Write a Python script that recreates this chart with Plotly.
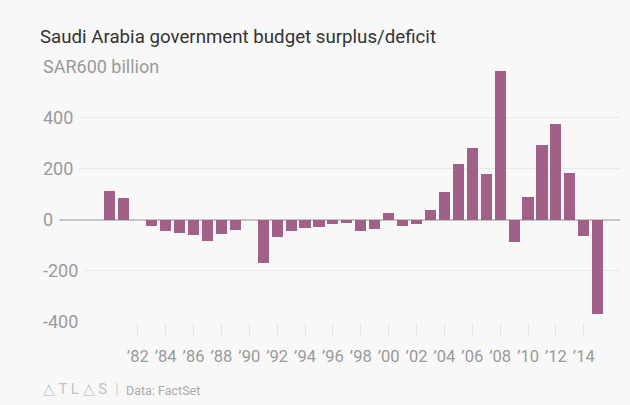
import plotly.graph_objects as go

years = list(range(1980, 2016))
surplus = [111, 84, None, -24, -45, -51, -62, -83, -56, -41,
           None, -172, -70, -46, -34, -28, -18, -14, -47, -37,
           24, -26, -18, 37, 109, 219, 282, 177, 582, -87,
           88, 292, 376, 181, -64, -369]

x_tick_years = list(range(1982, 2016, 2))
x_tick_text = ["\u2019" + str(y)[2:] for y in x_tick_years]
y_tick_vals = [600, 400, 200, 0, -200, -400]
y_tick_text = ["SAR600 billion", "400", "200", "0", "-200", "-400"]

BG = "#f8f8f8"
BAR = "#a06087"
FONT = "Roboto"

W, H = 630, 405
ML, MR, MT, MB = 43, 10, 66, 83
PW, PH = W - ML - MR, H - MT - MB


def px_x(p):
    return (p - ML) / PW


def px_y(p):
    return (H - MB - p) / PH


fig = go.Figure()
fig.add_trace(go.Bar(x=years, y=surplus, width=0.8, marker=dict(color=BAR, line=dict(width=0)),
                     hoverinfo="x+y"))

annotations = []
for v, t in zip(y_tick_vals, y_tick_text):
    annotations.append(dict(x=0, xref="paper", y=v, yref="y", text=t, showarrow=False,
                            xanchor="left", yanchor="middle", xshift=-7,
                            bgcolor=BG, borderpad=6,
                            font=dict(family=FONT, size=18, color="#9a9a9a")))

annotations += [
    dict(x=px_x(41), y=px_y(389), xref="paper", yref="paper", text="\u25b3 T L \u25b3 S",
         showarrow=False, xanchor="left", yanchor="middle",
         font=dict(family=FONT, size=15, color="#c4c4c4")),
    dict(x=px_x(113), y=px_y(389), xref="paper", yref="paper", text="|",
         showarrow=False, xanchor="left", yanchor="middle",
         font=dict(family=FONT, size=15, color="#d0d0d0")),
    dict(x=px_x(124), y=px_y(390), xref="paper", yref="paper", text="Data: FactSet",
         showarrow=False, xanchor="left", yanchor="middle",
         font=dict(family=FONT, size=12.5, color="#aaaaaa")),
]

fig.update_layout(
    width=W, height=H,
    paper_bgcolor=BG, plot_bgcolor=BG,
    margin=dict(l=ML, r=MR, t=MT, b=MB),
    showlegend=False,
    title=dict(text="Saudi Arabia government budget surplus/deficit",
               x=40/W, xanchor="left", xref="container", yref="container",
               y=1-36/H, yanchor="middle",
               font=dict(family=FONT, size=18.7, color="#333333")),
    annotations=annotations,
    bargap=0,
)

fig.update_xaxes(range=[1975.2, 2016.6], tickvals=x_tick_years, ticktext=x_tick_text,
                 ticks="outside", ticklen=13, tickcolor="#e4e4e4", tickwidth=1,
                 showgrid=False, zeroline=False, showline=False, ticklabelstandoff=6,
                 tickfont=dict(family=FONT, size=16.5, color="#9a9a9a"), fixedrange=True)
fig.update_yaxes(range=[-402, 602], tickvals=y_tick_vals, showticklabels=False,
                 showgrid=True, gridcolor="#e8e8e8", gridwidth=1,
                 zeroline=True, zerolinecolor="#c4c4c4", zerolinewidth=1.5,
                 fixedrange=True)

fig.write_html("out.html", config={"displayModeBar": False},
               post_script="document.body.style.margin='0';document.body.style.background='#f8f8f8';")
